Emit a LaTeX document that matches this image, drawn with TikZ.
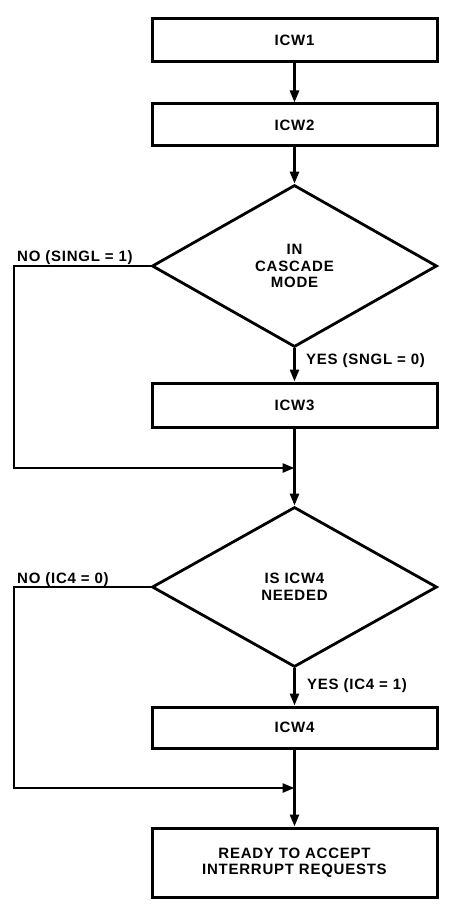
\documentclass[tikz,border=0pt]{standalone}
\usepackage{fontspec}
\setmainfont{Liberation Sans}[LetterSpace=5]
\usetikzlibrary{arrows.meta,shapes.geometric}
\begin{document}
\begin{tikzpicture}[x=1pt,y=-1pt,
  every node/.style={font=\fontsize{15}{16.5}\selectfont\bfseries},
  stepbox/.style={draw,line width=3pt,minimum width=285pt,inner sep=0pt,align=center},
  decide/.style={draw,diamond,line width=2.8pt,minimum width=285pt,inner sep=0pt,align=center},
  flow/.style={line width=2.6pt,-{Triangle[length=12pt,width=9pt]}},
  lbl/.style={anchor=base west,inner sep=0pt}]
\useasboundingbox (0,0) rectangle (457,909);
\node[stepbox,minimum height=43pt] (w1) at (294.5,40.5) {ICW1};
\node[stepbox,minimum height=42pt] (w2) at (294.5,125) {ICW2};
\node[decide,minimum height=162pt] (d1) at (294.5,266) {IN\\CASCADE\\MODE};
\node[stepbox,minimum height=44pt] (w3) at (294.5,405) {ICW3};
\node[decide,minimum height=160pt] (d2) at (294.5,587) {IS ICW4\\NEEDED};
\node[stepbox,minimum height=41pt] (w4) at (294.5,727.5) {ICW4};
\node[stepbox,minimum height=69pt] (rd) at (294.5,862.5) {READY TO ACCEPT\\INTERRUPT REQUESTS};
\coordinate (m1) at (294.5,468);
\coordinate (l1) at (14,468);
\coordinate (m2) at (294.5,788);
\coordinate (l2) at (14,788);
\draw[flow] (w1) -- (w2);
\draw[flow] (w2) -- (d1);
\draw[flow] (d1) -- (w3);
\draw[flow] (w3) -- (d2);
\draw[flow] (d1.west) -| (l1) -- (m1);
\draw[flow] (d2) -- (w4);
\draw[flow] (w4) -- (rd);
\draw[flow] (d2.west) -| (l2) -- (m2);
\node[lbl] (n1) at (17,261) {NO (SINGL = 1)};
\node[lbl] (y1) at (306,364) {YES (SNGL = 0)};
\node[lbl] (n2) at (17,583) {NO (IC4 = 0)};
\node[lbl] (y2) at (307,689) {YES (IC4 = 1)};
\end{tikzpicture}
\end{document}
